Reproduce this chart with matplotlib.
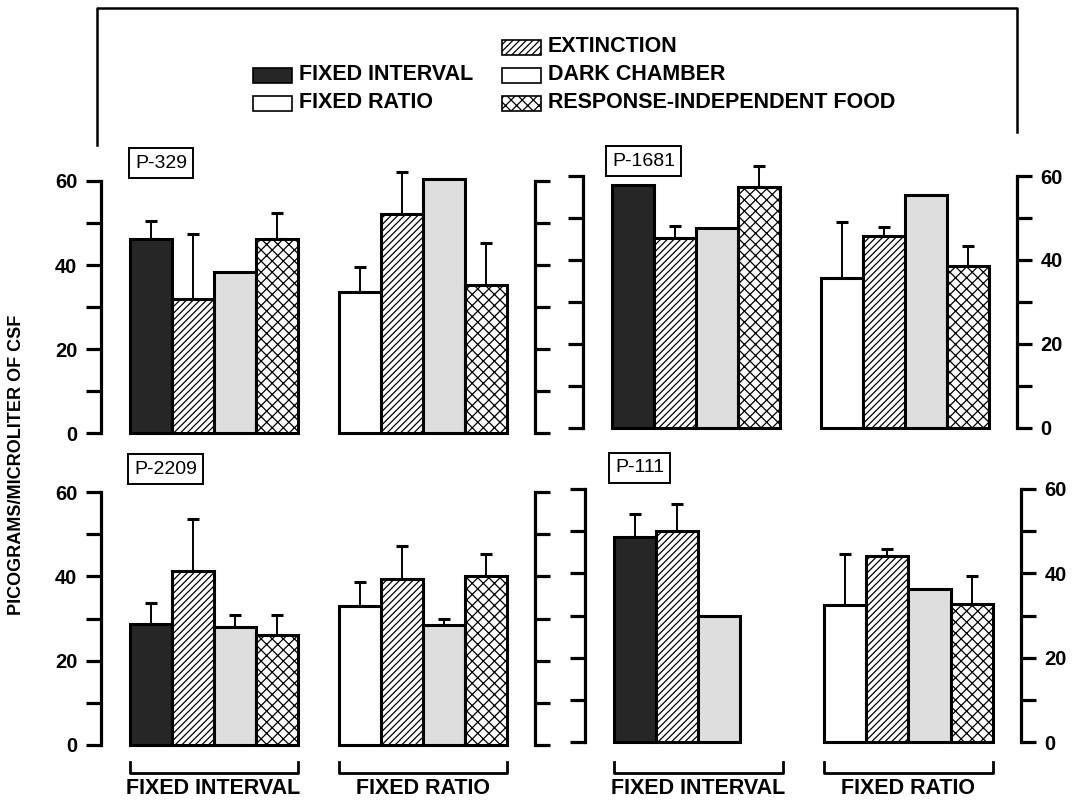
import matplotlib
matplotlib.use("Agg")
import matplotlib.pyplot as plt
import numpy as np
from matplotlib.patches import Rectangle
from matplotlib.lines import Line2D
from matplotlib.transforms import blended_transform_factory

plt.rcParams["font.family"] = ["Liberation Sans", "DejaVu Sans"]
plt.rcParams["hatch.linewidth"] = 0.9

nan = np.nan

# ---- data (picograms per microliter of CSF) ----
subjects = ["P-329", "P-1681", "P-2209", "P-111"]
schedules = ["FIXED INTERVAL", "FIXED RATIO"]
conditions = ["FIXED INTERVAL", "FIXED RATIO", "EXTINCTION",
              "DARK CHAMBER", "RESPONSE-INDEPENDENT FOOD"]

# each group: [baseline schedule, extinction, dark chamber, response-independent food]
p329_fi = [46.3, 32.0, 38.3, 46.3]
p329_fi_sem = [4.3, 15.5, nan, 6.0]
p329_fr = [33.6, 52.1, 60.4, 35.4]
p329_fr_sem = [5.9, 10.0, nan, 9.9]

p1681_fi = [57.9, 45.2, 47.6, 57.3]
p1681_fi_sem = [nan, 2.9, nan, 5.2]
p1681_fr = [35.7, 45.8, 55.4, 38.5]
p1681_fr_sem = [13.3, 2.0, nan, 4.8]

p2209_fi = [28.8, 41.3, 28.0, 26.2]
p2209_fi_sem = [4.9, 12.4, 2.8, 4.7]
p2209_fr = [33.0, 39.3, 28.4, 40.0]
p2209_fr_sem = [5.7, 7.8, 1.4, 5.4]

p111_fi = [48.7, 50.0, 29.8, nan]
p111_fi_sem = [5.3, 6.5, nan, nan]
p111_fr = [32.6, 44.1, 36.4, 32.8]
p111_fr_sem = [11.9, 1.6, nan, 6.5]

y_ticks = [0, 10, 20, 30, 40, 50, 60]
y_ticklabels = ["0", "", "20", "", "40", "", "60"]

# ---- appearance ----
W, H = 1078, 802
fig = plt.figure(figsize=(W / 100, H / 100), dpi=100)
fig.patch.set_facecolor("white")

STYLE = {
    "FIXED INTERVAL": dict(facecolor="#262626", hatch=None),
    "FIXED RATIO": dict(facecolor="white", hatch=None),
    "EXTINCTION": dict(facecolor="white", hatch="/////"),
    "DARK CHAMBER": dict(facecolor="#dedede", hatch=None),
    "RESPONSE-INDEPENDENT FOOD": dict(facecolor="white", hatch="xxx"),
}

FS_TICK = 14.5
FS_TEXT = 15.5


def fx(x):
    return x / W


def fy(y):
    return 1 - y / H


def make_axes(x0, x1, y0, y60):
    return fig.add_axes([fx(x0), fy(y0), (x1 - x0) / W, (y0 - y60) / H])


# panel frames: (left px, right px, y of 0, y of 60), side carrying the labels
panels = [
    dict(name=subjects[0], rect=(101, 535, 433.5, 181), side="left",
         groups=[(p329_fi, p329_fi_sem), (p329_fr, p329_fr_sem)],
         tag=(127, 163), bracket=False),
    dict(name=subjects[1], rect=(583, 1017, 427.5, 176), side="right",
         groups=[(p1681_fi, p1681_fi_sem), (p1681_fr, p1681_fr_sem)],
         tag=(604, 161), bracket=False),
    dict(name=subjects[2], rect=(101, 535, 745, 492), side="left",
         groups=[(p2209_fi, p2209_fi_sem), (p2209_fr, p2209_fr_sem)],
         tag=(126, 469), bracket=True),
    dict(name=subjects[3], rect=(585, 1021, 742, 489), side="right",
         groups=[(p111_fi, p111_fi_sem), (p111_fr, p111_fr_sem)],
         tag=(607, 468), bracket=True),
]

XMAX = 10.33           # panel width in bar widths
GROUP_START = [0.68, 5.66]

for p in panels:
    x0, x1, y0, y60 = p["rect"]
    ax = make_axes(x0, x1, y0, y60)
    ax.set_xlim(0, XMAX)
    ax.set_ylim(0, 60)
    ax.set_facecolor("none")
    for s in ("top", "bottom"):
        ax.spines[s].set_visible(False)
    for s in ("left", "right"):
        ax.spines[s].set_linewidth(2.3)
    ax.set_xticks([])
    ax.set_yticks(y_ticks)
    ax.set_yticklabels(y_ticklabels)
    ax.tick_params(axis="y", direction="out", length=11, width=2.3,
                   left=True, right=True,
                   labelleft=(p["side"] == "left"),
                   labelright=(p["side"] == "right"),
                   labelsize=FS_TICK, pad=6)
    for lab in ax.get_yticklabels():
        lab.set_fontweight("bold")

    for gi, (vals, sems) in enumerate(p["groups"]):
        names = [schedules[gi], "EXTINCTION", "DARK CHAMBER",
                 "RESPONSE-INDEPENDENT FOOD"]
        xs = GROUP_START[gi] + 0.5 + np.arange(4)
        for xi, v, e, nm in zip(xs, vals, sems, names):
            if np.isnan(v):
                continue
            st = STYLE[nm]
            ax.bar(xi, v, width=1.0, facecolor=st["facecolor"],
                   hatch=st["hatch"], edgecolor="black", linewidth=2.2,
                   zorder=3, clip_on=False)
            if not np.isnan(e):
                ax.errorbar(xi, v, yerr=[[0], [e]], fmt="none",
                            ecolor="black", elinewidth=1.4, capsize=4.5,
                            capthick=2.2, zorder=2, clip_on=False)

        if p["bracket"]:
            tr = blended_transform_factory(ax.transData, fig.transFigure)
            gx0 = GROUP_START[gi]
            gx1 = GROUP_START[gi] + 4
            ax.add_line(Line2D([gx0, gx0, gx1, gx1],
                               [fy(762), fy(773), fy(773), fy(762)],
                               transform=tr, color="black", lw=2.0,
                               clip_on=False))
            ax.text((gx0 + gx1) / 2, fy(789), schedules[gi], transform=tr,
                    ha="center", va="center", fontsize=FS_TEXT,
                    fontweight="bold", clip_on=False)

    # subject tag
    tx, ty = p["tag"]
    fig.text(fx(tx + 8), fy(ty), p["name"], ha="left", va="center",
             fontsize=14,
             bbox=dict(boxstyle="square,pad=0.32", facecolor="white",
                       edgecolor="black", linewidth=1.4))

# ---- legend ----
PATCH_W, PATCH_H = 39, 15
legend_items = [
    ("FIXED INTERVAL", 253, 75),
    ("FIXED RATIO", 253, 103),
    ("EXTINCTION", 502, 47),
    ("DARK CHAMBER", 502, 75),
    ("RESPONSE-INDEPENDENT FOOD", 502, 103),
]
for nm, lx, ly in legend_items:
    st = STYLE[nm]
    face = "white" if nm == "DARK CHAMBER" else st["facecolor"]
    rect = Rectangle((fx(lx), fy(ly + PATCH_H / 2)), PATCH_W / W, PATCH_H / H,
                     transform=fig.transFigure, facecolor=face,
                     hatch=st["hatch"], edgecolor="black", linewidth=1.2)
    fig.add_artist(rect)
    fig.text(fx(lx + PATCH_W + 7), fy(ly), nm, ha="left", va="center",
             fontsize=FS_TEXT, fontweight="bold")

# open frame around the legend
fig.add_artist(Line2D([fx(97), fx(97), fx(1017), fx(1017)],
                      [fy(145), fy(8), fy(8), fy(132)],
                      transform=fig.transFigure, color="black", lw=1.8))

# shared y-axis title
fig.text(fx(17), fy(465), "PICOGRAMS/MICROLITER OF CSF", rotation=90,
         ha="center", va="center", fontsize=13, fontweight="bold")

fig.savefig("out.png", dpi=100)
